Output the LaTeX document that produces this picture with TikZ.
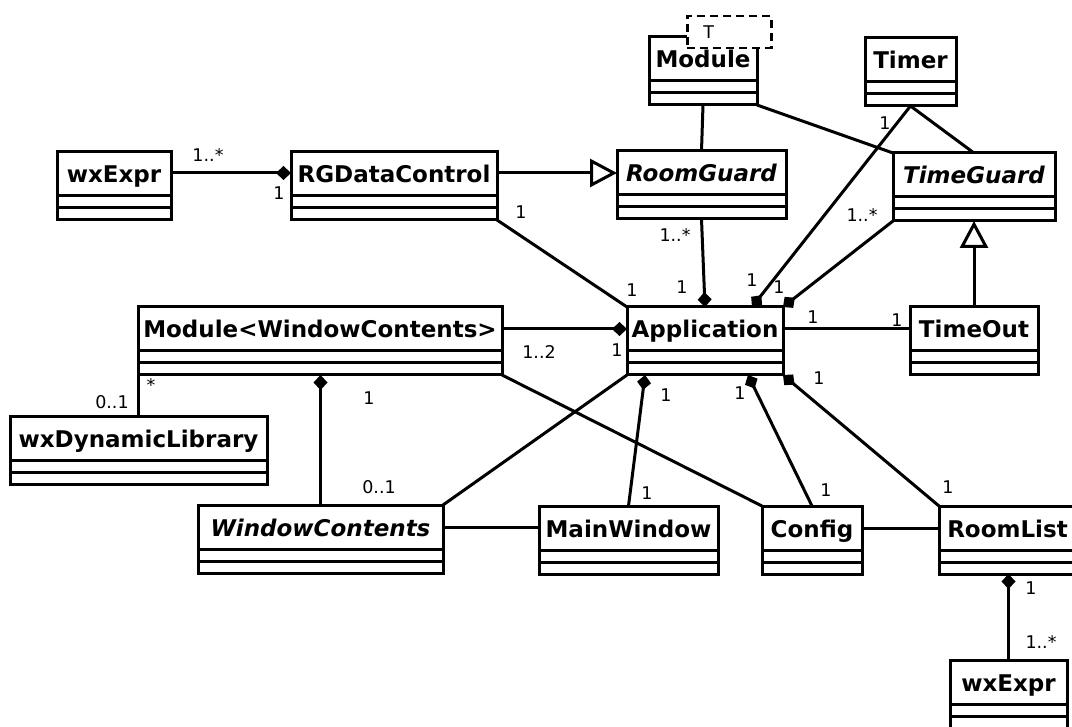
\documentclass[tikz,border=0pt]{standalone}
\usepackage{fontspec}
\setmainfont{DejaVu Sans}
\usetikzlibrary{arrows.meta}

\tikzset{
    umlclass/.style={draw, line width=3pt, fill=white, outer sep=0pt,
        minimum height=68pt, inner xsep=3pt, inner ysep=6pt,
        text height=25pt, text depth=31pt, anchor=north west,
        font=\fontsize{23}{27}\selectfont\bfseries,
        % attribute and operation compartments
        path picture={
            \draw[line width=3pt] ([yshift=-44pt]path picture bounding box.north west)
                -- ([yshift=-44pt]path picture bounding box.north east);
            \draw[line width=3pt] ([yshift=-56pt]path picture bounding box.north west)
                -- ([yshift=-56pt]path picture bounding box.north east);
        }},
    abstract/.style={font=\fontsize{23}{27}\selectfont\bfseries\itshape},
    assoc/.style={line width=3pt},
    comp/.style={assoc, -{Diamond[length=15pt,width=14pt]}},
    gen/.style={assoc, -{Triangle[open,length=27pt,width=28pt]}},
    mult/.style={font=\fontsize{17.5}{20}\selectfont, inner sep=0pt},
    tparam/.style={draw, line width=2.5pt, dash pattern=on 8pt off 5pt, fill=white,
        anchor=north west, minimum width=84pt, minimum height=32pt,
        inner xsep=16pt, text width=52pt, align=left,
        font=\fontsize{17.5}{20}\selectfont}
}

\begin{document}
\begin{tikzpicture}[x=1pt, y=-1pt]
        \useasboundingbox (0,0) rectangle (1072,727);

        % classes
        \node[umlclass, minimum width=114pt] (wxa) at (57,152) {wxExpr};
        \node[umlclass, minimum width=206pt] (rgdc) at (291,152) {RGDataControl};
        \node[umlclass, abstract, minimum width=169pt] (rg) at (617,151) {RoomGuard};
        \node[umlclass, minimum width=108pt] (mod) at (649,37) {Module};
        \node[tparam] (modt) at (686,15) {T};
        \node[umlclass, minimum width=91pt] (tmr) at (865,38) {Timer};
        \node[umlclass, abstract, minimum width=162pt] (tg) at (893,153) {TimeGuard};
        \node[umlclass, minimum width=364pt] (mwc) at (138,307) {Module<WindowContents>};
        \node[umlclass, minimum width=156pt] (app) at (627,307) {Application};
        \node[umlclass, minimum width=128pt] (to) at (910,307) {TimeOut};
        \node[umlclass, minimum width=257pt] (wxdl) at (10,417) {wxDynamicLibrary};
        \node[umlclass, abstract, minimum width=245pt] (wc) at (198,505) {WindowContents};
        \node[umlclass, minimum width=179pt] (mw) at (539,506) {MainWindow};
        \node[umlclass, minimum width=100pt] (cfg) at (762,506) {Config};
        \node[umlclass, minimum width=137pt] (rl) at (939,506) {RoomList};
        \node[umlclass, minimum width=117pt] (wxb) at (950,660) {wxExpr};

        % side points at the height of the name compartment
        \coordinate (wxa-e) at ([yshift=-21pt]wxa.north east);
        \coordinate (rgdc-e) at ([yshift=-21pt]rgdc.north east);
        \coordinate (mwc-e) at ([yshift=-22pt]mwc.north east);
        \coordinate (app-e) at ([yshift=-22pt]app.north east);
        \coordinate (wc-e) at ([yshift=-22pt]wc.north east);
        \coordinate (cfg-e) at ([yshift=-22pt]cfg.north east);

        % relations
        \draw[comp] (wxa-e) -- (wxa-e -| rgdc.west);
        \draw[gen] (rgdc-e) -- (rgdc-e -| rg.west);
        \draw[assoc] (mod.south) -- (rg.north);
        \draw[assoc] (mod.south east) -- (tg.north west);
        \draw[assoc] (tmr.south) -- (tg.north);
        \draw[comp] (tmr.south) -- ([xshift=-31pt]app.north east);
        \draw[comp] (tg.south west) -- (app.north east);
        \draw[comp] (rg.south) -- (app.north);
        \draw[assoc] (rgdc.south east) -- (app.north west);
        \draw[comp] (mwc-e) -- (mwc-e -| app.west);
        \draw[assoc] (app-e) -- (app-e -| to.west);
        \draw[gen] (to.north) -- (to.north |- tg.south);
        \draw[assoc] (mwc.south west) -- (mwc.south west |- wxdl.north);
        \draw[comp] (wc.north) -- (wc.north |- mwc.south);
        \draw[assoc] (mwc.south east) -- (cfg.north west);
        \draw[assoc] (app.south west) -- (wc.north east);
        \draw[assoc] (wc-e) -- (wc-e -| mw.west);
        \draw[comp] (mw.north) -- ([xshift=18pt]app.south west);
        \draw[comp] (cfg.north) -- ([xshift=-35pt]app.south east);
        \draw[comp] (rl.north west) -- (app.south east);
        \draw[assoc] (cfg-e) -- (cfg-e -| rl.west);
        \draw[comp] (wxb.north) -- (wxb.north |- rl.south);

        % multiplicities
        \node[mult] (m-wxa) at (208,155) {1..*};
        \node[mult] (m-rgdc) at (279,193) {1};
        \node[mult] (m-rgdc2) at (521,212) {1};
        \node[mult] (m-app1) at (632,290) {1};
        \node[mult] (m-rg) at (675,235) {1..*};
        \node[mult] (m-app2) at (682,287) {1};
        \node[mult] (m-tmr) at (885,123) {1};
        \node[mult] (m-app3) at (752,280) {1};
        \node[mult] (m-tg) at (862,215) {1..*};
        \node[mult] (m-app4) at (779,287) {1};
        \node[mult] (m-app5) at (813,317) {1};
        \node[mult] (m-to) at (897,320) {1};
        \node[mult] (m-mwc) at (539,352) {1..2};
        \node[mult] (m-app6) at (617,350) {1};
        \node[mult] (m-mwc2) at (151,385) {*};
        \node[mult] (m-wxdl) at (112,402) {0..1};
        \node[mult] (m-mwc3) at (369,398) {1};
        \node[mult] (m-wc) at (379,487) {0..1};
        \node[mult] (m-app7) at (666,395) {1};
        \node[mult] (m-mw) at (647,493) {1};
        \node[mult] (m-app8) at (740,393) {1};
        \node[mult] (m-cfg) at (826,490) {1};
        \node[mult] (m-app9) at (819,378) {1};
        \node[mult] (m-rl) at (948,487) {1};
        \node[mult] (m-rl2) at (1031,588) {1};
        \node[mult] (m-wxb) at (1041,642) {1..*};
\end{tikzpicture}
\end{document}
